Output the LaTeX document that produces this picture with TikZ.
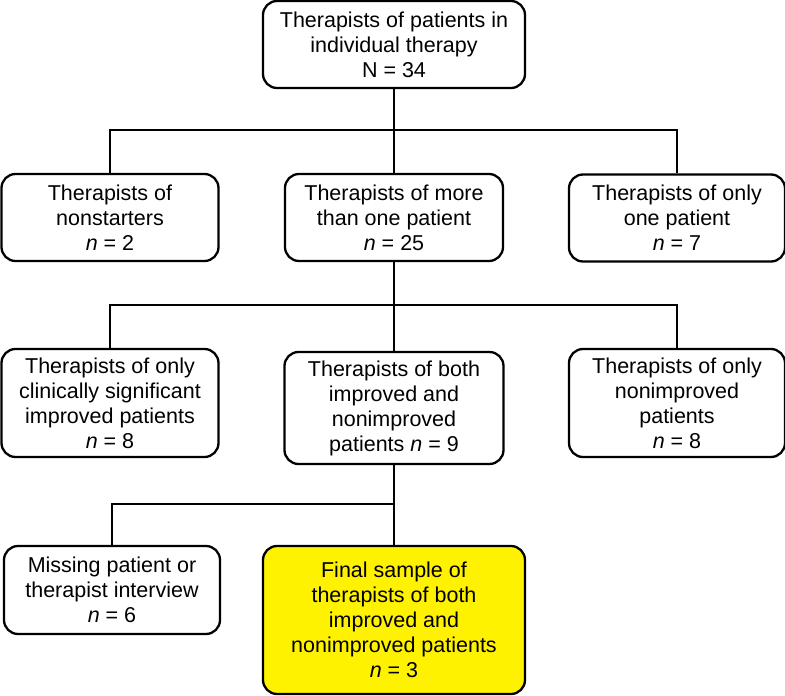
\documentclass[tikz,border=0pt]{standalone}
\usepackage{fontspec}
\setmainfont{Liberation Sans}
\begin{document}
\begin{tikzpicture}[x=1pt,y=-1pt,
  box/.style={draw, line width=2.3pt, rounded corners=14pt, align=center, inner sep=0pt,
    font=\fontsize{21.5}{25}\selectfont},
  link/.style={line width=2.3pt}]
\useasboundingbox (0,0) rectangle (785,696);
\node[box, minimum width=262pt, minimum height=87pt] (top) at (394,44.5)
  {Therapists of patients in\\individual therapy\\N = 34};
\node[box, minimum width=217pt, minimum height=87pt] (nonstart) at (110,217.5)
  {Therapists of\\nonstarters\\\textit{n} = 2};
\node[box, minimum width=218pt, minimum height=87pt] (more) at (394,217.5)
  {Therapists of more\\than one patient\\\textit{n} = 25};
\node[box, minimum width=216pt, minimum height=87pt] (one) at (677,218)
  {Therapists of only\\one patient\\\textit{n} = 7};
\node[box, minimum width=217pt, minimum height=108pt] (clin) at (110,403)
  {Therapists of only\\clinically significant\\improved patients\\\textit{n} = 8};
\node[box, minimum width=219pt, minimum height=112pt] (both) at (394,408)
  {Therapists of both\\improved and\\nonimproved\\patients \textit{n} = 9};
\node[box, minimum width=216pt, minimum height=108pt] (nonimp) at (677,403)
  {Therapists of only\\nonimproved\\patients\\\textit{n} = 8};
\node[box, minimum width=216pt, minimum height=88pt] (missing) at (112,590)
  {Missing patient or\\therapist interview\\\textit{n} = 6};
\node[box, fill=yellow, minimum width=262pt, minimum height=148pt] (final) at (394,620)
  {Final sample of\\therapists of both\\improved and\\nonimproved patients\\\textit{n} = 3};
\coordinate (h1) at (394,130);
\coordinate (h2) at (394,305);
\coordinate (h3) at (394,504);
\draw[link] (top.south) -- (more.north);
\draw[link] (nonstart.north) |- (h1) -| (one.north);
\draw[link] (more.south) -- (both.north);
\draw[link] (clin.north) |- (h2) -| (nonimp.north);
\draw[link] (both.south) -- (final.north);
\draw[link] (missing.north) |- (h3);
\end{tikzpicture}
\end{document}
